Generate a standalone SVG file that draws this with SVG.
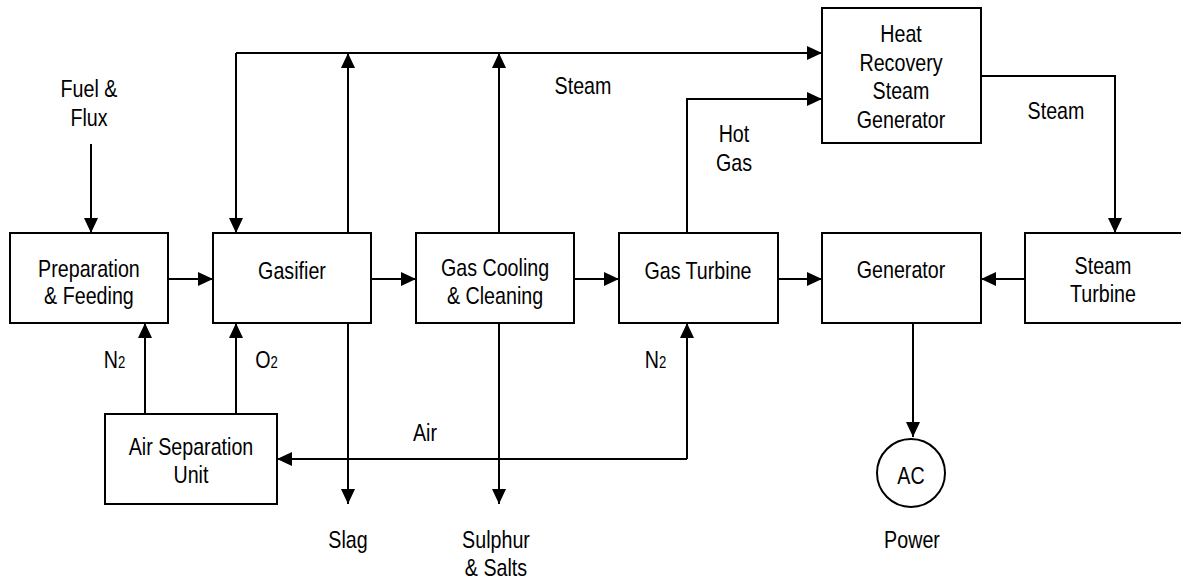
<svg xmlns="http://www.w3.org/2000/svg" width="1181" height="580" viewBox="0 0 1181 580">
<style>
.box{fill:#fff;stroke:#000;stroke-width:2}
.ln{fill:none;stroke:#000;stroke-width:2}
text{font-family:"Liberation Sans",Arial,sans-serif;font-size:24px;fill:#000;text-anchor:middle}
.sub{font-size:16px}
</style>
<defs>
<marker id="ah" markerUnits="userSpaceOnUse" markerWidth="15" markerHeight="14" refX="15" refY="7" orient="auto">
<path d="M0,0 L15,7 L0,14 Z" fill="#000"/>
</marker>
</defs>
<rect width="1181" height="580" fill="#fff"/>
<g id="connectors">
<path class="ln" d="M91,144 L91,233" marker-end="url(#ah)"/>
<path class="ln" d="M236,53 L236,233" marker-end="url(#ah)"/>
<path class="ln" d="M236,53 L822,53" marker-end="url(#ah)"/>
<path class="ln" d="M348,233 L348,53" marker-end="url(#ah)"/>
<path class="ln" d="M499,233 L499,53" marker-end="url(#ah)"/>
<path class="ln" d="M687,233 L687,99 L822,99" marker-end="url(#ah)"/>
<path class="ln" d="M981,76 L1115,76 L1115,233" marker-end="url(#ah)"/>
<path class="ln" d="M168,279 L213,279" marker-end="url(#ah)"/>
<path class="ln" d="M371,279 L416,279" marker-end="url(#ah)"/>
<path class="ln" d="M574,279 L619,279" marker-end="url(#ah)"/>
<path class="ln" d="M778,279 L822,279" marker-end="url(#ah)"/>
<path class="ln" d="M1025,279 L981,279" marker-end="url(#ah)"/>
<path class="ln" d="M145,414 L145,323" marker-end="url(#ah)"/>
<path class="ln" d="M236,414 L236,323" marker-end="url(#ah)"/>
<path class="ln" d="M348,323 L348,504" marker-end="url(#ah)"/>
<path class="ln" d="M499,323 L499,504" marker-end="url(#ah)"/>
<path class="ln" d="M687,459 L277,459" marker-end="url(#ah)"/>
<path class="ln" d="M687,459 L687,323" marker-end="url(#ah)"/>
<path class="ln" d="M913,323 L913,437" marker-end="url(#ah)"/>
</g>
<g id="prep"><rect class="box" x="10" y="233" width="158" height="90"/><g transform="scale(0.82 1)"><text x="108.5" y="277">Preparation</text><text x="108.5" y="304">&amp; Feeding</text></g></g>
<g id="gasifier"><rect class="box" x="213" y="233" width="158" height="90"/><g transform="scale(0.82 1)"><text x="356.1" y="279">Gasifier</text></g></g>
<g id="cooling"><rect class="box" x="416" y="233" width="158" height="90"/><g transform="scale(0.82 1)"><text x="603.7" y="276">Gas Cooling</text><text x="603.7" y="304">&amp; Cleaning</text></g></g>
<g id="gasturbine"><rect class="box" x="619" y="233" width="159" height="90"/><g transform="scale(0.82 1)"><text x="851.2" y="279">Gas Turbine</text></g></g>
<g id="generator"><rect class="box" x="822" y="233" width="159" height="90"/><g transform="scale(0.82 1)"><text x="1098.8" y="278">Generator</text></g></g>
<g id="steamturbine"><rect class="box" x="1025" y="233" width="158" height="90"/><g transform="scale(0.82 1)"><text x="1345.1" y="274">Steam</text><text x="1345.1" y="302">Turbine</text></g></g>
<g id="hrsg"><rect class="box" x="822" y="8" width="159" height="135"/><g transform="scale(0.82 1)"><text x="1098.8" y="42">Heat</text><text x="1098.8" y="71">Recovery</text><text x="1098.8" y="99">Steam</text><text x="1098.8" y="128">Generator</text></g></g>
<g id="asu"><rect class="box" x="105" y="414" width="172" height="90"/><g transform="scale(0.82 1)"><text x="232.9" y="455">Air Separation</text><text x="232.9" y="483">Unit</text></g></g>
<g id="ac"><circle class="box" cx="911" cy="473" r="34"/><g transform="scale(0.82 1)"><text x="1111" y="484">AC</text></g></g>
<g id="labels" transform="scale(0.82 1)">
<text x="108.5" y="97">Fuel &amp;</text><text x="108.5" y="126">Flux</text>
<text x="711" y="94">Steam</text>
<text x="895.1" y="142">Hot</text><text x="895.1" y="171">Gas</text>
<text x="1287.8" y="119">Steam</text>
<text x="139.6" y="368">N<tspan class="sub">2</tspan></text>
<text x="325" y="368">O<tspan class="sub">2</tspan></text>
<text x="799.4" y="368">N<tspan class="sub">2</tspan></text>
<text x="518.3" y="441">Air</text>
<text x="424.4" y="548">Slag</text>
<text x="604.9" y="548">Sulphur</text><text x="604.9" y="576">&amp; Salts</text>
<text x="1112.2" y="548">Power</text>
</g>
</svg>
